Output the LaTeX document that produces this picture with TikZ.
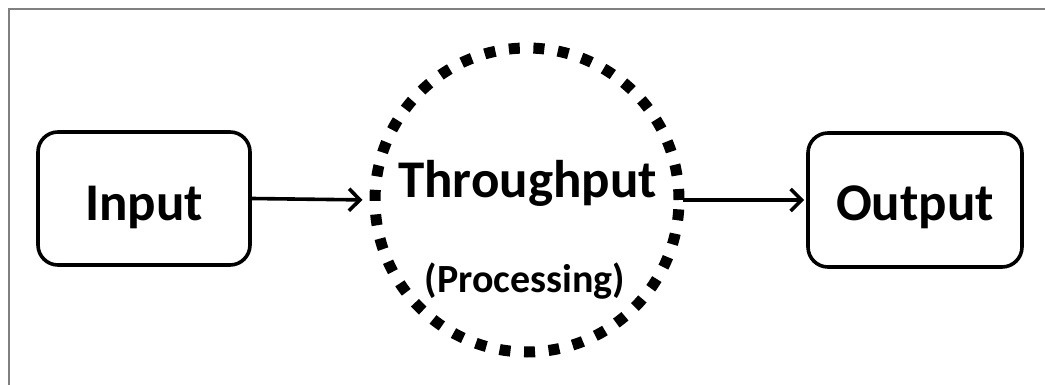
\documentclass[tikz,border=0pt]{standalone}
\usepackage{fontspec}
\setmainfont{Carlito}
\usetikzlibrary{arrows.meta}
\tikzset{
  frame/.style={draw=black!50, line width=2.5pt},
  stagebox/.style={draw, line width=3.6pt, rounded corners=20pt, inner sep=0pt},
  ring/.style={circle, draw, line width=11pt, dash pattern=on 11pt off 13.6pt, inner sep=0pt},
  bigtext/.style={font=\fontsize{53}{60}\selectfont\bfseries, anchor=base, inner sep=0pt},
  smalltext/.style={font=\fontsize{40}{46}\selectfont\bfseries, anchor=base, inner sep=0pt},
  flow/.style={line width=3.6pt, -{Straight Barb[length=11pt, width=22pt, line width=3.6pt]}}
}
\begin{document}
\begin{tikzpicture}[x=1pt, y=-1pt]
  \useasboundingbox (0,0) rectangle (1045,385);
  % page frame, open towards the lower right
  \draw[frame] (9,395) -- (9,9) -- (1055,9);
  % stages
  \node[stagebox, minimum width=212pt, minimum height=133pt] (input) at (144,198.5) {};
  \node[stagebox, minimum width=214pt, minimum height=134pt] (output) at (915,200) {};
  \node[ring, minimum size=304pt] (proc) at (527,200) {};
  % labels
  \node[bigtext] (inputlbl) at (144,220) {Input};
  \node[bigtext] (outputlbl) at (915,221) {Output};
  \node[bigtext] (thrlbl) at (527.5,198) {Throughput};
  \node[smalltext] (prclbl) at (525,292) {(Processing)};
  % connectors
  \draw[flow, shorten >=7pt] (input.east) -- (proc.west);
  \draw[flow, shorten <=-2pt, shorten >=2pt] (proc.east) -- (output.west);
\end{tikzpicture}
\end{document}
